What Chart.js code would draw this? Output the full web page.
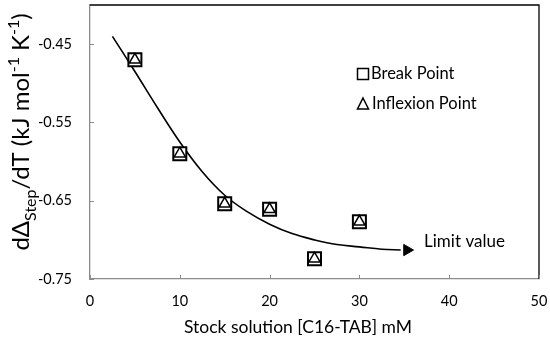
<!DOCTYPE html>
<html>
<head>
<meta charset="utf-8">
<script src="https://cdn.jsdelivr.net/npm/chart.js@4/dist/chart.umd.min.js"></script>
<style>
  html, body { margin: 0; padding: 0; background: #fff; }
  #wrap { width: 550px; height: 339px; }
</style>
</head>
<body>
<div id="wrap"><canvas id="c"></canvas></div>
<script>
// measured points (mM, kJ mol-1 K-1)
const concX = [5, 10, 15, 20, 25, 30];
const breakY = [-0.470, -0.590, -0.654, -0.661, -0.724, -0.677];
const inflexY = [-0.470, -0.590, -0.654, -0.661, -0.724, -0.677];

// guide curve drawn by hand in the original
const curveX = [2.5, 5, 7.5, 10, 12.5, 15, 17.5, 20, 22.5, 25, 27.5, 30, 32.5, 34.6];
const curveY = [-0.440, -0.485, -0.531, -0.575, -0.613, -0.643, -0.664, -0.680, -0.692, -0.700, -0.706, -0.709, -0.712, -0.713];
const arrowX = [35.3];
const arrowY = [-0.713];

const xTicks = [0, 10, 20, 30, 40, 50];
const yTicks = [-0.75, -0.65, -0.55, -0.45];
const limitLabel = { x: 37.2, y: -0.7026, text: 'Limit value' };
const xTitle = 'Stock solution [C16-TAB] mM';

const FONT = 'Lato, "Open Sans", sans-serif';

function pts(xs, ys) {
    return xs.map(function(x, i) { return { x: x, y: ys[i] }; });
}

// frame, inner ticks, axis titles (with sub/superscripts) and the in-plot legend
const extras = {
    id: 'extras',
    afterDraw(chart) {
        const ctx = chart.ctx;
        const area = chart.chartArea;
        const xs = chart.scales.x, ys = chart.scales.y;

        ctx.save();
        ctx.strokeStyle = '#000';
        ctx.lineWidth = 1.3;
        ctx.beginPath();
        ctx.moveTo(area.left, area.top);
        ctx.lineTo(area.right, area.top);
        ctx.lineTo(area.right, area.bottom);
        ctx.stroke();

        // short inward tick marks
        ctx.strokeStyle = '#8c8c8c';
        ctx.lineWidth = 1;
        ctx.beginPath();
        xTicks.forEach(function(v) {
            const px = Math.round(xs.getPixelForValue(v)) + 0.5;
            ctx.moveTo(px, area.bottom);
            ctx.lineTo(px, area.bottom - 4);
        });
        yTicks.forEach(function(v) {
            const py = Math.round(ys.getPixelForValue(v)) + 0.5;
            ctx.moveTo(area.left, py);
            ctx.lineTo(area.left + 4, py);
        });
        ctx.stroke();
        ctx.restore();

        // x axis title
        ctx.save();
        ctx.fillStyle = '#000';
        ctx.font = '17.5px ' + FONT;
        ctx.textAlign = 'center';
        ctx.textBaseline = 'middle';
        ctx.fillText(xTitle, 298, 327);
        ctx.restore();

        // y axis title
        const size = 24;
        const parts = [
            ['d\u0394', 0], ['Step', 1], ['/dT (kJ mol', 0], ['-1', 2], [' K', 0], ['-1', 2], [')', 0]
        ];
        ctx.save();
        ctx.fillStyle = '#000';
        ctx.textBaseline = 'alphabetic';
        let total = 0;
        parts.forEach(function(p) {
            ctx.font = (p[1] ? Math.round(size * 0.65) : size) + 'px ' + FONT;
            p.push(ctx.measureText(p[0]).width);
            total += p[2];
        });
        ctx.translate(29, 132);
        ctx.rotate(-Math.PI / 2);
        let cx = -total / 2;
        parts.forEach(function(p) {
            ctx.font = (p[1] ? Math.round(size * 0.65) : size) + 'px ' + FONT;
            let dy = 0;
            if (p[1] === 1) dy = size * 0.28;
            if (p[1] === 2) dy = -size * 0.42;
            ctx.fillText(p[0], cx, dy);
            cx += p[2];
        });
        ctx.restore();

        // legend inside plot
        ctx.save();
        ctx.font = '16.5px ' + FONT;
        ctx.fillStyle = '#000';
        ctx.strokeStyle = '#000';
        ctx.lineWidth = 1.5;
        ctx.textBaseline = 'middle';
        ctx.strokeRect(357.5, 68.5, 11, 11);
        ctx.fillText('Break Point', 371, 74);
        ctx.beginPath();
        ctx.moveTo(363, 98);
        ctx.lineTo(368.5, 109);
        ctx.lineTo(357.5, 109);
        ctx.closePath();
        ctx.stroke();
        ctx.fillText('Inflexion Point', 372, 104);

        // limit value label
        ctx.font = '17px ' + FONT;
        ctx.fillText(limitLabel.text, xs.getPixelForValue(limitLabel.x), ys.getPixelForValue(limitLabel.y));
        ctx.restore();
    }
};

const config = {
    type: 'scatter',
    data: {
        datasets: [
            {
                label: 'Inflexion Point',
                data: pts(concX, inflexY),
                pointStyle: 'triangle',
                pointRadius: 6.5,
                borderColor: '#000',
                backgroundColor: '#fff',
                borderWidth: 1.5,
            },
            {
                label: 'Break Point',
                data: pts(concX, breakY),
                pointStyle: 'rect',
                pointRadius: 9.2,
                borderColor: '#000',
                backgroundColor: '#fff',
                borderWidth: 2,
            },
            {
                label: 'arrow',
                data: pts(arrowX, arrowY),
                pointStyle: 'triangle',
                rotation: 90,
                pointRadius: 6.5,
                borderColor: '#000',
                backgroundColor: '#000',
                borderWidth: 1,
            },
            {
                label: 'curve',
                data: pts(curveX, curveY),
                showLine: true,
                tension: 0.4,
                pointRadius: 0,
                borderColor: '#000',
                borderWidth: 1.6,
                fill: false,
            }
        ]
    },
    options: {
        responsive: true,
        maintainAspectRatio: false,
        animation: false,
        layout: { autoPadding: false, padding: { top: 5, right: 11, left: 0, bottom: 0 } },
        plugins: {
            legend: { display: false },
            tooltip: { enabled: false },
        },
        scales: {
            x: {
                type: 'linear',
                min: 0,
                max: 50,
                afterFit: function(scale) {
                    scale.height = 60;
                    scale.paddingLeft = 0;
                    scale.paddingRight = 0;
                },
                afterBuildTicks: function(scale) {
                    scale.ticks = xTicks.map(function(v) { return { value: v }; });
                },
                border: { color: '#8c8c8c', width: 1.3 },
                grid: { drawOnChartArea: false, drawTicks: false },
                ticks: {
                    color: '#000',
                    padding: 14,
                    font: { family: FONT, size: 14.5 },
                }
            },
            y: {
                type: 'linear',
                min: -0.75,
                max: -0.40,
                afterFit: function(scale) {
                    scale.width = 90;
                    scale.paddingTop = 0;
                    scale.paddingBottom = 0;
                },
                afterBuildTicks: function(scale) {
                    scale.ticks = yTicks.map(function(v) { return { value: v }; });
                },
                border: { color: '#8c8c8c', width: 1.3 },
                grid: { drawOnChartArea: false, drawTicks: false },
                ticks: {
                    color: '#000',
                    padding: 18,
                    font: { family: FONT, size: 14.5 },
                    callback: function(v) { return v.toFixed(2); }
                }
            }
        }
    },
    plugins: [extras]
};

new Chart(document.getElementById('c').getContext('2d'), config);
</script>
</body>
</html>
